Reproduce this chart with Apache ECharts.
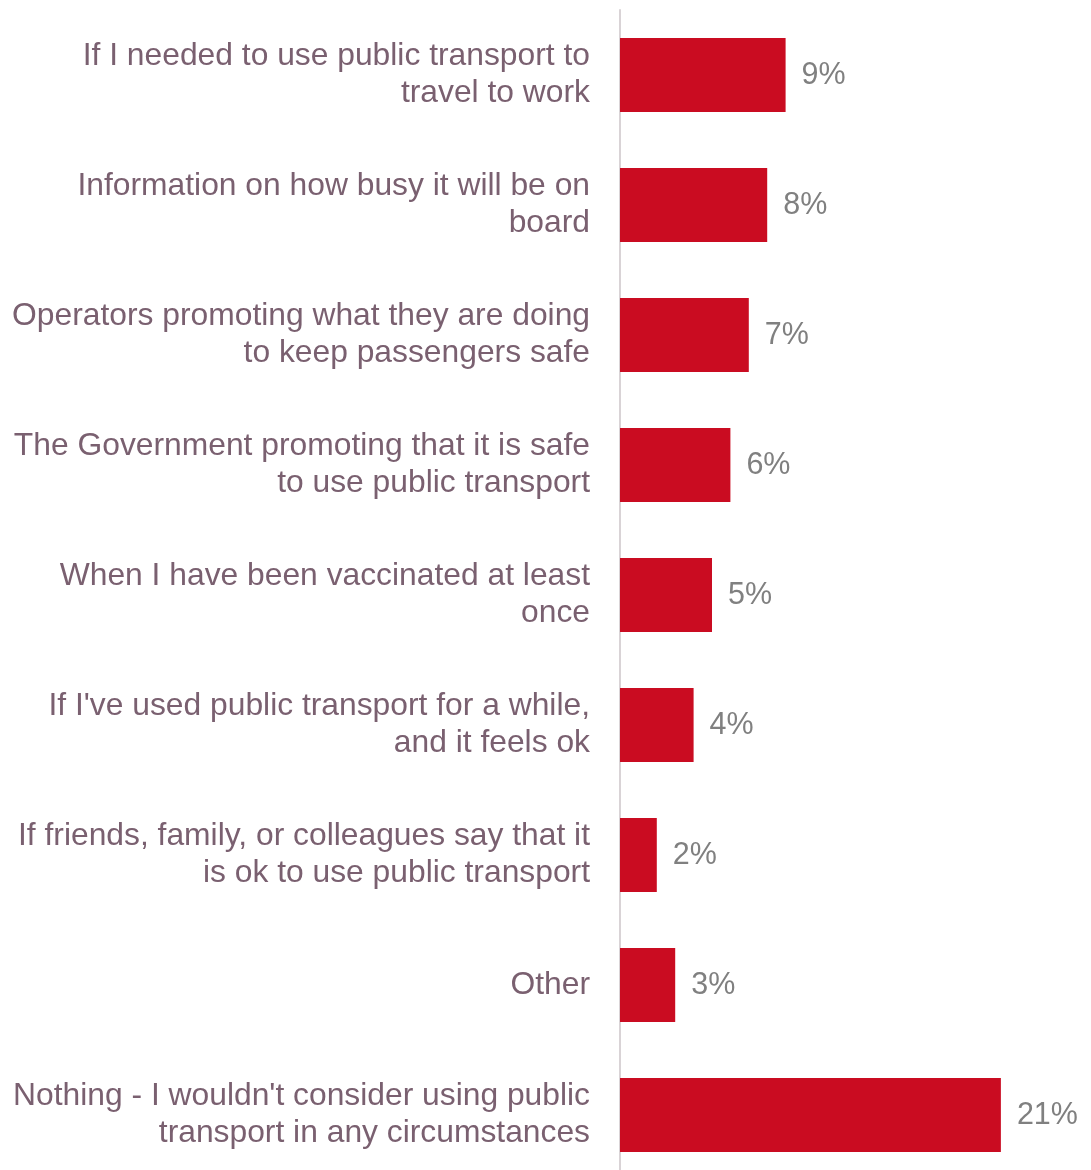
<!DOCTYPE html>
<html>
<head>
<meta charset="utf-8">
<script src="https://cdn.jsdelivr.net/npm/echarts@6/dist/echarts.min.js"></script>
<style>
html,body{margin:0;padding:0;background:#fff;}
#chart{width:1091px;height:1170px;}
</style>
</head>
<body>
<div id="chart"></div>
<script>
const categories = [
  "If I needed to use public transport to\ntravel to work",
  "Information on how busy it will be on\nboard",
  "Operators promoting what they are doing\nto keep passengers safe",
  "The Government promoting that it is safe\nto use public transport",
  "When I have been vaccinated at least\nonce",
  "If I've used public transport for a while,\nand it feels ok",
  "If friends, family, or colleagues say that it\nis ok to use public transport",
  "Other",
  "Nothing - I wouldn't consider using public\ntransport in any circumstances"
];
const values = [9.0, 8.0, 7.0, 6.0, 5.0, 4.0, 2.0, 3.0, 20.7];

const chart = echarts.init(document.getElementById('chart'), null, {renderer: 'canvas'});
chart.setOption({
  animation: false,
  backgroundColor: '#ffffff',
  grid: {left: 620, top: 10, width: 460, height: 1170, containLabel: false, outerBoundsMode: 'none'},
  xAxis: {
    type: 'value', min: 0, max: 25, show: false,
    splitLine: {show: false}
  },
  yAxis: {
    type: 'category', data: categories, inverse: true,
    axisLine: {show: true, lineStyle: {color: '#d9d3d6', width: 2}},
    axisTick: {show: false},
    axisLabel: {
      margin: 30, color: '#7a6070', fontSize: 31.8, lineHeight: 37,
      fontFamily: 'Liberation Sans, Arial, sans-serif', align: 'right'
    }
  },
  series: [{
    type: 'bar', data: values, barCategoryGap: '43%',
    itemStyle: {color: '#ca0c21'},
    label: {
      show: true, position: 'right', distance: 16, offset: [0, 1],
      color: '#808080', fontSize: 30.5, fontFamily: 'Liberation Sans, Arial, sans-serif',
      formatter: p => Math.round(p.value) + '%'
    }
  }]
});
</script>
</body>
</html>
